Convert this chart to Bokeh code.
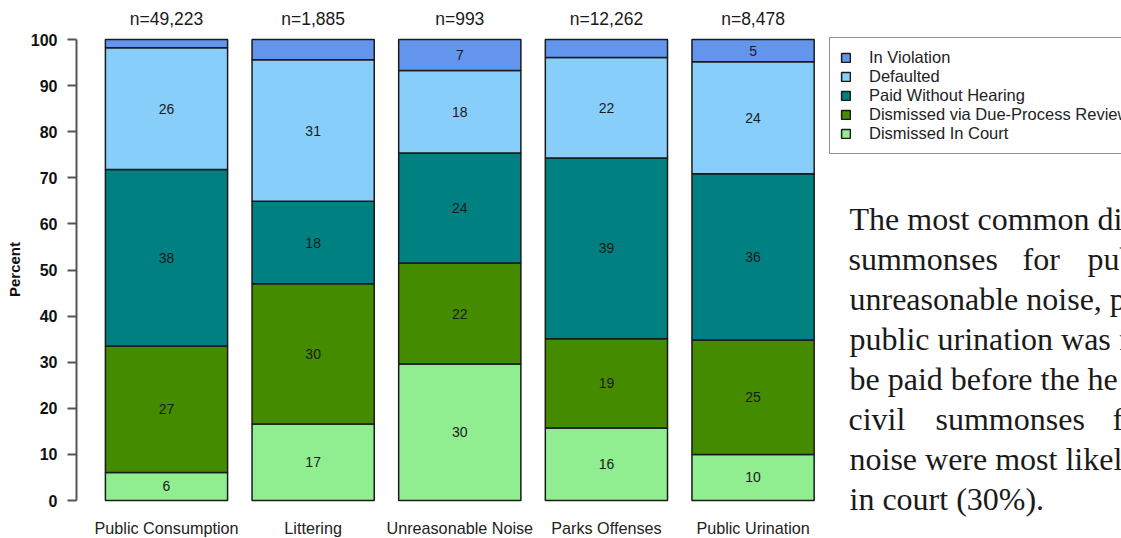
from bokeh.plotting import figure
from bokeh.models import (ColumnDataSource, Range1d, FixedTicker, Legend, LegendItem)
from bokeh.core.properties import value
from bokeh.embed import file_html
from bokeh.resources import INLINE

# ---- data -------------------------------------------------------------
categories = ["Public Consumption", "Littering", "Unreasonable Noise",
              "Parks Offenses", "Public Urination"]
counts = ["n=49,223", "n=1,885", "n=993", "n=12,262", "n=8,478"]

# percent of summonses by disposition (bottom of the stack first)
dismissed_in_court = [6.1, 16.6, 29.6, 15.7, 10.0]
dismissed_due_process = [27.4, 30.4, 21.9, 19.4, 24.8]
paid_without_hearing = [38.3, 17.9, 23.9, 39.2, 36.1]
defaulted = [26.4, 30.7, 17.9, 21.8, 24.3]
in_violation = [1.8, 4.4, 6.7, 3.9, 4.8]

series_names = ["Dismissed In Court", "Dismissed via Due-Process Review",
                "Paid Without Hearing", "Defaulted", "In Violation"]
series_values = [dismissed_in_court, dismissed_due_process,
                 paid_without_hearing, defaulted, in_violation]
series_colors = ["#90EE90", "#458B00", "#008080", "#87CEFA", "#6495ED"]

y_ticks = list(range(0, 101, 10))

paragraph = [
    [(849, "The most common di")],
    [(848, "summonses"), (1022, "for"), (1087, "pub")],
    [(849, "unreasonable noise, p")],
    [(849, "public urination was f")],
    [(849, "be paid before the he")],
    [(848, "civil"), (935, "summonses"), (1112, "f")],
    [(849, "noise were most likel")],
    [(849, "in court (30%).")],
]

# ---- layout (bar slots in tenths of a bar width, R-style spacing) -------
BAR_W = 10
centers = [7 + 12 * i for i in range(len(categories))]
PX_PER_X = 12.22
X0_PX = 80.46          # pixel of x = 0
PX_PER_Y = 4.61
Y0_PX = 500.0          # pixel of y = 0
LEFT, W, H = 76, 1121, 538


def px_to_x(px):
    return (px - X0_PX) / PX_PER_X


def px_to_y(py):
    return (Y0_PX - py) / PX_PER_Y


p = figure(width=W, height=H, output_backend="svg", toolbar_location=None,
           x_range=Range1d(px_to_x(LEFT), px_to_x(W)),
           y_range=Range1d(px_to_y(H), px_to_y(0)),
           min_border_left=LEFT, min_border_right=0, min_border_top=0,
           min_border_bottom=0, outline_line_color=None,
           background_fill_color="white", border_fill_color="white")
p.grid.visible = False
p.xaxis.visible = False

SANS = "Liberation Sans"
SERIF = "Liberation Serif"

# ---- stacked bars -----------------------------------------------------
renderers = {}
bottoms = [0.0] * len(categories)
label_x, label_y, label_t = [], [], []
for name, vals, color in zip(series_names, series_values, series_colors):
    tops = [b + v for b, v in zip(bottoms, vals)]
    src = ColumnDataSource(dict(x=centers, bottom=bottoms, top=tops))
    renderers[name] = p.vbar(x="x", width=BAR_W, bottom="bottom", top="top",
                             source=src, fill_color=color,
                             line_color="#1a1a1a", line_width=1.5)
    for cx, b, v in zip(centers, bottoms, vals):
        if round(v) >= 5:
            label_x.append(cx)
            label_y.append(b + v / 2)
            label_t.append(f"{v:.0f}")
    bottoms = tops

p.text(x=label_x, y=label_y, text=label_t, text_align="center",
       text_baseline="middle", text_font=value(SANS),
       text_font_size="14px", text_color="#1a1a1a")

# sample sizes above each bar
p.text(x=centers, y=[t + 4.4 for t in bottoms], text=counts,
       text_align="center", text_baseline="middle", text_font=value(SANS),
       text_font_size="17.5px", text_color="#1a1a1a")

# category names under each bar
p.text(x=centers, y=[px_to_y(527)] * len(centers), text=categories,
       text_align="center", text_baseline="middle", text_font=value(SANS),
       text_font_size="16.2px", text_color="#222222")

# ---- y axis -----------------------------------------------------------
ya = p.yaxis[0]
ya.ticker = FixedTicker(ticks=y_ticks)
ya.bounds = (0, 100)
ya.axis_line_color = "#555555"
ya.axis_line_width = 2
ya.major_tick_line_color = "#555555"
ya.major_tick_line_width = 2
ya.major_tick_in = 0
ya.major_tick_out = 9
ya.minor_tick_line_color = None
ya.major_label_standoff = 10
ya.major_label_text_font = SANS
ya.major_label_text_font_size = "16px"
ya.major_label_text_font_style = "bold"
ya.major_label_text_color = "#111111"
ya.axis_label = "Percent"
ya.axis_label_text_font = SANS
ya.axis_label_text_font_size = "15px"
ya.axis_label_text_font_style = "bold"
ya.axis_label_text_color = "#111111"
ya.axis_label_standoff = 5

# ---- legend -----------------------------------------------------------
legend = Legend(items=[LegendItem(label=n, renderers=[renderers[n]])
                       for n in reversed(series_names)],
                location=(829 - LEFT, H - 154))
legend.border_line_color = "#222222"
legend.border_line_width = 1
legend.background_fill_color = "white"
legend.background_fill_alpha = 1
legend.padding = 10
legend.margin = 0
legend.spacing = 0
legend.glyph_width = 11
legend.glyph_height = 11
legend.label_height = 19
legend.label_standoff = 18
legend.label_text_font = SANS
legend.label_text_font_size = "16.5px"
legend.label_text_color = "#222222"
p.add_layout(legend, "center")

# ---- accompanying paragraph -------------------------------------------
px_, py_, pt_ = [], [], []
for i, line in enumerate(paragraph):
    base = 218 + 40 * i
    for xpx, word in line:
        px_.append(px_to_x(xpx))
        py_.append(px_to_y(base))
        pt_.append(word)
p.text(x=px_, y=py_, text=pt_, text_align="left", text_baseline="alphabetic",
       text_font=value(SERIF), text_font_size="32px", text_color="#1a1a1a")

open("out.html", "w").write(file_html(p, INLINE))
